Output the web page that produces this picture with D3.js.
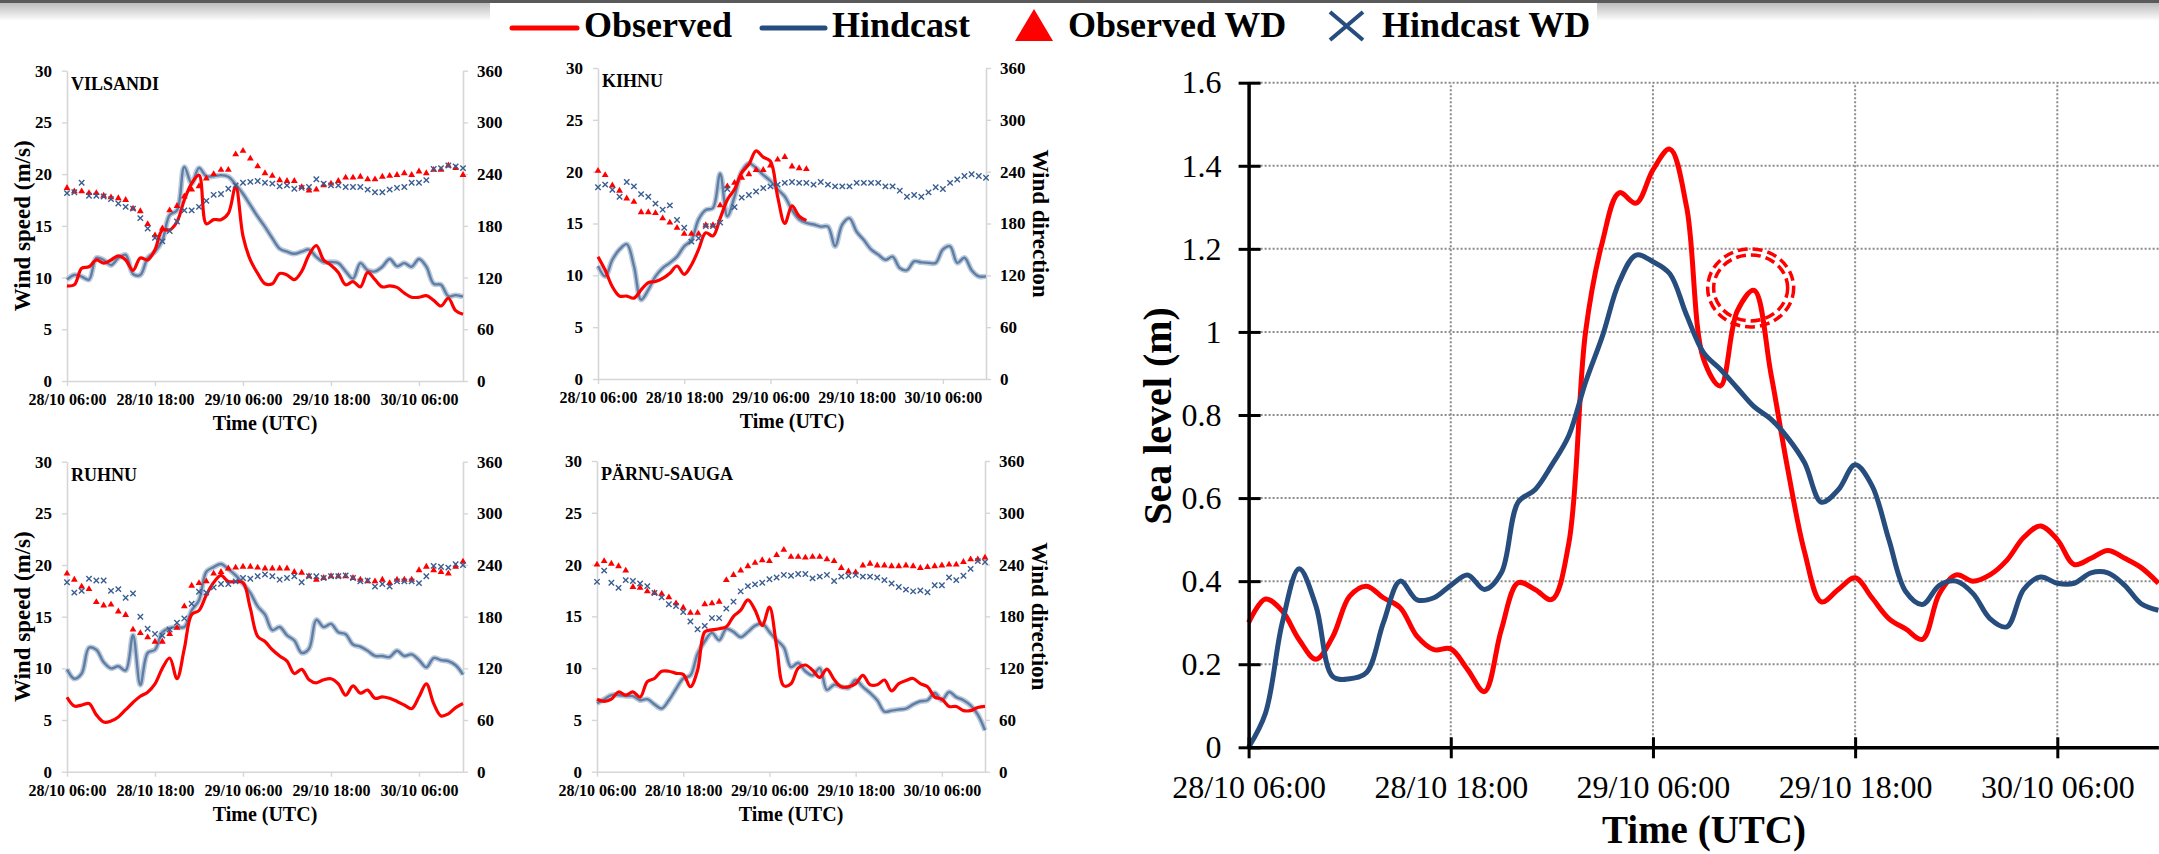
<!DOCTYPE html>
<html>
<head>
<meta charset="utf-8">
<script src="https://cdn.jsdelivr.net/npm/d3@7"></script>
<style>
  body { margin: 0; background: #fff; }
  svg { display: block; }
  text { font-family: "Liberation Serif", "Times New Roman", serif; }
</style>
</head>
<body>
<svg id="fig" width="2159" height="854"></svg>
<script>
// hourly steps from 28/10 06:00 to 30/10 12:00
const hours = d3.range(0, 55);
const tickHours = [0, 12, 24, 36, 48];
const tickLabels = ["28/10 06:00", "28/10 18:00", "29/10 06:00", "29/10 18:00", "30/10 06:00"];
const speedTicks = [0, 5, 10, 15, 20, 25, 30];
const dirTicks = [0, 60, 120, 180, 240, 300, 360];
const levelTicks = [0, 0.2, 0.4, 0.6, 0.8, 1, 1.2, 1.4, 1.6];
const levelLabels = ["0", "0.2", "0.4", "0.6", "0.8", "1", "1.2", "1.4", "1.6"];

// wind speed (m/s) and wind direction (deg)
const vilsandiObs = [9.2,9.3,10.9,11.05,11.7,11.4,11.7,12.1,11.7,10.7,11.9,11.7,12.7,14.6,14.6,15.4,17.5,19.1,19.9,15.2,15.6,15.6,16.2,18.8,14.0,11.7,10.4,9.4,9.4,10.4,10.25,9.8,10.6,12.2,13.1,11.7,11.2,10.5,9.3,9.6,9.1,10.5,9.8,9.1,9.2,9.05,8.5,8.1,8.1,8.25,7.8,7.25,8.0,6.8,6.45];
const vilsandiHind = [9.8,10.25,10.1,9.8,11.9,11.7,11.2,11.9,12.2,10.35,10.25,11.9,12.5,13.6,16.05,16.5,20.7,19.1,20.6,19.8,19.8,19.9,19.75,19.0,18.1,17.0,15.9,14.9,13.8,12.8,12.5,12.3,12.5,12.7,12.0,11.5,11.5,11.4,10.6,9.9,11.4,10.7,10.6,11.05,11.8,11.1,11.4,11.05,11.8,11.05,9.4,9.3,8.2,8.3,8.15];
const vilsandiObsWD = [224,220,220,218,218,215,213,212,210,200,197,182,169,177,198,203,214,222,226,235,240,245,245,263,267,258,249,241,238,233,232,232,225,221,222,227,229,232,236,236,237,234,234,237,238,239,241,239,243,241,245,245,250,247,239];
const vilsandiHindWD = [218,219,230,215,215,214,211,206,202,200,189,177,166,162,174,185,198,198,202,209,216,217,223,227,230,231,232,230,229,226,227,223,224,225,234,229,227,227,225,225,225,222,219,219,222,224,225,230,230,233,246,247,250,249,247];

const kihnuObs = [11.8,10.5,8.9,8.0,8.0,7.8,8.6,9.3,9.4,9.7,10.2,10.9,10.1,11.0,12.5,14.1,13.8,15.5,17.3,18.3,19.9,20.7,22.0,21.4,21.0,17.6,15.0,16.7,15.7,15.3];
const kihnuHind = [10.9,9.9,11.5,12.5,13.0,10.9,7.65,8.6,9.9,10.7,11.2,11.8,12.8,13.4,15.4,16.3,16.5,19.8,15.7,17.6,20.0,20.8,20.35,19.7,19.1,18.3,17.6,16.3,15.4,15.05,14.9,14.7,14.7,12.8,14.9,15.5,14.2,13.4,12.5,12.0,11.5,11.8,10.7,10.5,11.35,11.25,11.2,11.2,12.5,12.8,11.2,11.7,10.5,9.9,9.9];
const kihnuObsWD = [241,236,224,218,209,205,193,193,192,186,181,175,168,168,168,178,178,201,223,227,233,237,242,242,247,254,257,246,244,243];
const kihnuHindWD = [222,225,219,211,228,223,214,211,203,196,201,184,175,159,163,177,177,181,220,199,210,213,217,221,223,225,227,228,227,227,225,228,225,223,223,223,227,227,227,227,223,223,218,211,213,211,216,222,220,227,231,235,237,235,233];

const ruhnuObs = [7.2,6.35,6.45,6.6,5.5,4.8,4.9,5.3,6.0,6.7,7.3,7.7,8.5,10.0,11.0,9.0,11.9,15.2,15.6,17.1,18.3,19.0,18.4,18.4,18.3,15.8,13.1,12.6,11.8,11.2,10.7,9.5,9.9,8.9,8.6,8.9,9.0,8.5,7.4,8.3,7.6,7.9,7.1,7.25,7.1,6.8,6.45,6.1,7.25,8.5,6.6,5.4,5.6,6.2,6.6];
const ruhnuHind = [9.9,9.0,9.5,12.0,11.8,10.6,10.0,10.2,9.8,13.2,8.4,11.5,11.8,13.5,13.9,14.0,14.0,15.6,16.6,19.35,19.8,20.1,19.6,19.0,18.2,17.3,16.0,15.2,13.7,14.0,13.2,12.7,11.5,11.9,14.7,14.0,14.3,13.5,13.3,12.3,12.1,11.7,11.2,11.2,11.1,11.7,11.2,11.35,10.8,10.1,11.0,10.8,10.7,10.3,9.4];
const ruhnuObsWD = [230,223,215,212,197,193,194,186,182,165,161,156,151,151,160,167,192,216,219,221,230,232,236,237,238,238,237,236,236,236,236,232,231,227,223,225,227,227,227,225,223,221,221,223,219,223,223,223,234,238,234,232,230,238,244];
const ruhnuHindWD = [220,208,210,224,222,222,210,212,202,207,180,166,160,158,165,173,178,195,209,208,214,218,218,221,225,224,227,229,227,223,225,227,220,227,227,225,227,227,228,225,221,222,215,218,215,221,221,221,219,227,239,238,237,241,240];

const parnuObs = [7.0,6.8,7.0,7.7,7.4,7.7,7.2,8.7,9.0,9.7,9.7,9.5,9.4,8.2,9.8,13.5,13.7,13.8,14.0,15.0,15.6,16.6,15.6,14.1,15.9,12.1,8.3,8.5,10.0,10.3,9.8,9.1,9.9,8.9,8.2,8.2,8.5,9.3,8.4,8.4,8.85,7.8,8.5,8.8,9.0,8.5,8.2,7.2,7.0,6.3,6.3,5.9,5.9,6.2,6.3];
const parnuHind = [6.6,7.0,7.4,7.4,7.3,7.3,6.9,7.0,6.5,6.1,6.9,8.0,9.0,9.3,11.4,12.6,13.4,12.7,13.8,13.5,13.0,13.5,14.1,14.3,13.5,12.7,12.0,10.1,10.5,9.7,9.3,10.0,7.9,8.4,8.2,8.1,8.85,8.2,7.6,6.9,5.8,5.9,6.0,6.1,6.5,6.8,6.9,7.6,6.9,7.7,7.2,6.9,6.4,5.5,4.0];
const parnuObsWD = [240,244,241,238,233,214,213,209,207,206,202,195,190,184,184,194,195,197,222,228,233,238,242,245,244,251,257,249,249,248,249,249,246,244,236,232,231,239,241,239,239,238,238,239,238,236,237,238,239,240,240,243,246,246,248];
const parnuHindWD = [220,233,219,213,222,221,218,215,207,202,194,192,185,174,165,169,178,178,189,197,209,215,217,219,223,225,228,227,229,229,224,226,228,221,226,227,228,226,226,225,222,218,214,211,209,210,208,216,216,225,222,227,235,244,243];

// sea level (m)
const seaObs = [0.30,0.357,0.328,0.259,0.212,0.267,0.364,0.388,0.36,0.336,0.267,0.235,0.237,0.187,0.134,0.283,0.396,0.38,0.356,0.49,1.0,1.217,1.335,1.31,1.39,1.44,1.30,0.935,0.87,1.05,1.10,0.90,0.67,0.47,0.35,0.38,0.408,0.36,0.31,0.285,0.26,0.37,0.415,0.40,0.415,0.45,0.505,0.533,0.50,0.44,0.455,0.474,0.455,0.432,0.395];
const seaHind = [0.0,0.082,0.30,0.43,0.34,0.17,0.165,0.18,0.30,0.40,0.355,0.36,0.39,0.415,0.38,0.42,0.59,0.62,0.68,0.75,0.879,0.99,1.12,1.185,1.169,1.14,1.04,0.95,0.91,0.865,0.82,0.79,0.745,0.685,0.59,0.62,0.68,0.63,0.50,0.375,0.344,0.39,0.40,0.37,0.31,0.29,0.38,0.41,0.395,0.395,0.42,0.42,0.39,0.345,0.33];
// second observed peak that is circled
const circledPeak = { hour: 29.8, level: 1.106 };

const legendItems = ["Observed", "Hindcast", "Observed WD", "Hindcast WD"];

const RED = "#ff0000";
const NAVY = "#264d7e";
const FONT = "'Liberation Serif', 'Times New Roman', serif";

const svg = d3.select("#fig");

// top frame strip
const defs = svg.append("defs");
const grad = defs.append("linearGradient").attr("id", "topfade").attr("x1", 0).attr("y1", 0).attr("x2", 0).attr("y2", 1);
grad.append("stop").attr("offset", "0%").attr("stop-color", "#bdbdbd");
grad.append("stop").attr("offset", "100%").attr("stop-color", "#ffffff");
svg.append("rect").attr("x", 0).attr("y", 3).attr("width", 2159).attr("height", 18).attr("fill", "url(#topfade)");
svg.append("rect").attr("x", 0).attr("y", 0).attr("width", 2159).attr("height", 3).attr("fill", "#5a5a5a");
svg.append("rect").attr("x", 490).attr("y", 3).attr("width", 1107).attr("height", 46).attr("fill", "#fff");

// legend
const lg = svg.append("g").attr("font-family", FONT).attr("font-weight", "bold").attr("font-size", 36);
lg.append("line").attr("x1", 512).attr("x2", 577).attr("y1", 28).attr("y2", 28)
  .attr("stroke", RED).attr("stroke-width", 5).attr("stroke-linecap", "round");
lg.append("text").attr("x", 584).attr("y", 37).text(legendItems[0]);
lg.append("line").attr("x1", 762).attr("x2", 825).attr("y1", 28).attr("y2", 28)
  .attr("stroke", NAVY).attr("stroke-width", 5).attr("stroke-linecap", "round");
lg.append("text").attr("x", 832).attr("y", 37).text(legendItems[1]);
lg.append("path").attr("d", "M1034,9 L1053,41 L1015,41 Z").attr("fill", RED);
lg.append("text").attr("x", 1068).attr("y", 37).text(legendItems[2]);
lg.append("path").attr("d", "M1330,12 L1363,40 M1330,40 L1363,12")
  .attr("stroke", NAVY).attr("stroke-width", 4).attr("fill", "none");
lg.append("text").attr("x", 1382).attr("y", 37).text(legendItems[3]);

// ---------- small wind panels ----------
const panels = [
  { name: "VILSANDI", box: [67, 463, 70.7, 381], obs: vilsandiObs, hind: vilsandiHind, obsWD: vilsandiObsWD, hindWD: vilsandiHindWD, leftTitle: true, rightTitle: false },
  { name: "KIHNU", box: [598, 986, 68, 379], obs: kihnuObs, hind: kihnuHind, obsWD: kihnuObsWD, hindWD: kihnuHindWD, leftTitle: false, rightTitle: true },
  { name: "RUHNU", box: [67, 463, 461.7, 771.7], obs: ruhnuObs, hind: ruhnuHind, obsWD: ruhnuObsWD, hindWD: ruhnuHindWD, leftTitle: true, rightTitle: false },
  { name: "PÄRNU-SAUGA", box: [597, 985, 461, 771.7], obs: parnuObs, hind: parnuHind, obsWD: parnuObsWD, hindWD: parnuHindWD, leftTitle: false, rightTitle: true }
];

function styleAxis(ax, size) {
  ax.attr("font-family", FONT).attr("font-size", size).attr("font-weight", "bold");
  ax.select(".domain").attr("stroke", "#d6d6d6").attr("stroke-width", 1.6);
  ax.selectAll(".tick line").attr("stroke", "#d6d6d6").attr("stroke-width", 1.4);
  ax.selectAll(".tick text").attr("fill", "#000");
}

function drawPanel(p) {
  const [left, right, top, bottom] = p.box;
  const x = d3.scaleLinear().domain([0, 54]).range([left, right]);
  const yS = d3.scaleLinear().domain([0, 30]).range([bottom, top]);
  const yD = d3.scaleLinear().domain([0, 360]).range([bottom, top]);
  const g = svg.append("g");

  const axL = g.append("g").attr("transform", `translate(${left},0)`)
    .call(d3.axisLeft(yS).tickValues(speedTicks).tickSize(5).tickSizeOuter(0).tickPadding(10));
  styleAxis(axL, 17);
  const axR = g.append("g").attr("transform", `translate(${right},0)`)
    .call(d3.axisRight(yD).tickValues(dirTicks).tickSize(5).tickSizeOuter(0).tickPadding(9));
  styleAxis(axR, 17);
  const axB = g.append("g").attr("transform", `translate(0,${bottom})`)
    .call(d3.axisBottom(x).tickValues(tickHours).tickFormat((d, i) => tickLabels[i])
      .tickSize(5).tickSizeOuter(0).tickPadding(8));
  styleAxis(axB, 16);

  g.append("text").attr("x", left + 4).attr("y", top + 19)
    .attr("font-family", FONT).attr("font-weight", "bold").attr("font-size", 18).text(p.name);

  g.append("text").attr("x", (left + right) / 2).attr("y", bottom + 49).attr("text-anchor", "middle")
    .attr("font-family", FONT).attr("font-weight", "bold").attr("font-size", 20).text("Time (UTC)");

  const midY = (top + bottom) / 2;
  if (p.leftTitle) {
    g.append("text").attr("transform", `translate(${left - 37},${midY}) rotate(-90)`)
      .attr("text-anchor", "middle").attr("font-family", FONT).attr("font-weight", "bold")
      .attr("font-size", 23).text("Wind speed (m/s)");
  }
  if (p.rightTitle) {
    g.append("text").attr("transform", `translate(${right + 47},${midY}) rotate(90)`)
      .attr("text-anchor", "middle").attr("font-family", FONT).attr("font-weight", "bold")
      .attr("font-size", 23).text("Wind direction");
  }

  const line = d3.line().x((d, i) => x(hours[i])).y(d => yS(d)).curve(d3.curveCatmullRom.alpha(0.5));
  g.append("path").datum(p.hind).attr("d", line).attr("fill", "none")
    .attr("stroke", "#bccada").attr("stroke-width", 5.5).attr("stroke-linejoin", "round");
  g.append("path").datum(p.hind).attr("d", line).attr("fill", "none")
    .attr("stroke", "#5f7ea6").attr("stroke-width", 2.4).attr("stroke-linejoin", "round");
  g.append("path").datum(p.obs).attr("d", line).attr("fill", "none")
    .attr("stroke", RED).attr("stroke-width", 3.2).attr("stroke-linejoin", "round");

  g.append("g").selectAll("path").data(p.obsWD).join("path")
    .attr("transform", (d, i) => `translate(${x(hours[i])},${yD(d)})`)
    .attr("d", d3.symbol(d3.symbolTriangle, 20)).attr("fill", RED);
  g.append("g").selectAll("path").data(p.hindWD).join("path")
    .attr("transform", (d, i) => `translate(${x(hours[i])},${yD(d)})`)
    .attr("d", "M-2.7,-2.7L2.7,2.7M-2.7,2.7L2.7,-2.7")
    .attr("stroke", "#3a5d91").attr("stroke-width", 1.4).attr("fill", "none");
}

panels.forEach(drawPanel);

// ---------- sea level chart ----------
const bx = d3.scaleLinear().domain([0, 54]).range([1248.6, 2158.4]);
const by = d3.scaleLinear().domain([0, 1.6]).range([747.3, 82.7]);
const big = svg.append("g");

big.append("g").selectAll("line").data(levelTicks.filter(v => v > 0)).join("line")
  .attr("x1", bx(0)).attr("x2", 2159).attr("y1", d => by(d)).attr("y2", d => by(d))
  .attr("stroke", "#8c8c8c").attr("stroke-width", 2).attr("stroke-dasharray", "2 2");
big.append("g").selectAll("line").data(tickHours.filter(h => h > 0)).join("line")
  .attr("x1", d => bx(d)).attr("x2", d => bx(d)).attr("y1", by(0)).attr("y2", by(1.6))
  .attr("stroke", "#8c8c8c").attr("stroke-width", 2).attr("stroke-dasharray", "2 2");

const bl = d3.line().x((d, i) => bx(hours[i])).y(d => by(d)).curve(d3.curveCatmullRom.alpha(0.5));
big.append("path").datum(seaObs).attr("d", bl).attr("fill", "none")
  .attr("stroke", RED).attr("stroke-width", 5).attr("stroke-linejoin", "round");
big.append("path").datum(seaHind).attr("d", bl).attr("fill", "none")
  .attr("stroke", NAVY).attr("stroke-width", 5).attr("stroke-linejoin", "round");

// dashed double ring round the second peak
const cx = bx(circledPeak.hour), cy = by(circledPeak.level);
[[43, 39], [37, 33]].forEach(([rx, ry]) => {
  big.append("ellipse").attr("cx", cx).attr("cy", cy).attr("rx", rx).attr("ry", ry)
    .attr("fill", "none").attr("stroke", RED).attr("stroke-width", 3.5).attr("stroke-dasharray", "10 5");
});

const yAx = big.append("g").attr("transform", `translate(${bx(0)},0)`)
  .call(d3.axisLeft(by).tickValues(levelTicks).tickFormat((d, i) => levelLabels[i])
    .tickSize(10).tickSizeOuter(0).tickPadding(17));
yAx.selectAll(".tick line").attr("x1", 12).attr("stroke", "#000").attr("stroke-width", 3);
yAx.select(".domain").attr("stroke", "#000").attr("stroke-width", 3.5);
yAx.attr("font-family", FONT).attr("font-size", 32);
yAx.selectAll(".tick text").attr("fill", "#000");

const xAx = big.append("g").attr("transform", `translate(0,${by(0)})`)
  .call(d3.axisBottom(bx).tickValues(tickHours).tickFormat((d, i) => tickLabels[i])
    .tickSize(11).tickSizeOuter(0).tickPadding(17));
xAx.selectAll(".tick line").attr("y1", -10).attr("stroke", "#000").attr("stroke-width", 3);
xAx.select(".domain").attr("stroke", "#000").attr("stroke-width", 3.5);
xAx.attr("font-family", FONT).attr("font-size", 32);
xAx.selectAll(".tick text").attr("fill", "#000");

big.append("text").attr("transform", `translate(1171,416) rotate(-90)`).attr("text-anchor", "middle")
  .attr("font-family", FONT).attr("font-weight", "bold").attr("font-size", 40).text("Sea level (m)");
big.append("text").attr("x", 1704).attr("y", 843).attr("text-anchor", "middle")
  .attr("font-family", FONT).attr("font-weight", "bold").attr("font-size", 39).text("Time (UTC)");
</script>
</body>
</html>
